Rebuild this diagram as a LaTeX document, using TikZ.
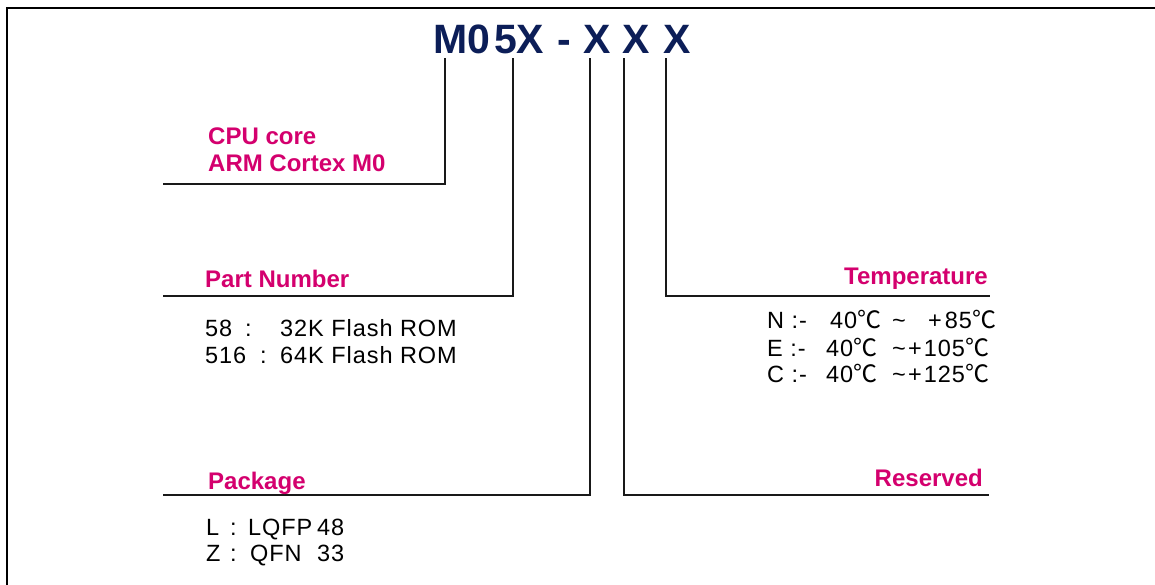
\documentclass[tikz,border=0pt]{standalone}
\usepackage{fontspec}
\setmainfont{Liberation Sans}
\newfontfamily\spaced[LetterSpace=4]{Liberation Sans}
\newfontfamily\cjk{Noto Sans CJK SC}
\newcommand\degc{{\cjk\fontsize{24}{24}\selectfont ℃}}
\definecolor{navy}{RGB}{12,30,88}
\definecolor{magenta}{RGB}{212,0,110}
\definecolor{ink}{RGB}{25,25,25}
\tikzset{
  title/.style={inner sep=0pt,anchor=base west,text=navy,font=\fontsize{41}{41}\selectfont\bfseries},
  label/.style={inner sep=0pt,anchor=base west,text=magenta,font=\fontsize{24}{27}\selectfont\bfseries},
  rlabel/.style={label,anchor=base east},
  body/.style={inner sep=0pt,anchor=base west,text=black,font=\fontsize{23.5}{26}\selectfont\spaced},
  lead/.style={draw=ink,line width=2pt},
  frame/.style={draw=black,line width=2pt}
}
\begin{document}
\begin{tikzpicture}[x=1pt,y=-1pt]
\useasboundingbox (0,0) rectangle (1155,584);
\fill[white] (0,0) rectangle (1155,584);
% frame
\coordinate (fbl) at (7,585);
\coordinate (ftl) at (7,7.5);
\coordinate (ftr) at (1156,7.5);
\draw[frame] (fbl) -- (ftl) -- (ftr);
% title
\node[title] (cM) at (433,53) {M};
\node[title] (c0) at (467,53) {0};
\node[title] (c5) at (494,53) {5};
\node[title] (cX1) at (516,53) {X};
\node[title] (cD) at (557,53) {-};
\node[title] (cX2) at (583,53) {X};
\node[title] (cX3) at (622,53) {X};
\node[title] (cX4) at (663,53) {X};
% lead tops
\coordinate (v1) at (444.5,58);
\coordinate (v2) at (513,58);
\coordinate (v3) at (590,58);
\coordinate (v4) at (623.5,58);
\coordinate (v5) at (666,58);
% lead ends
\coordinate (h1) at (163,184);
\coordinate (h2) at (163,296);
\coordinate (h3) at (163,495);
\coordinate (h4) at (989,495);
\coordinate (h5) at (990,296);
\draw[lead] (v1) |- (h1);
\draw[lead] (v2) |- (h2);
\draw[lead] (v3) |- (h3);
\draw[lead] (v4) |- (h4);
\draw[lead] (v5) |- (h5);
% labels
\node[label] (cpu1) at (208,144) {CPU core};
\node[label] (cpu2) at (208,171) {ARM Cortex M0};
\node[label] (part) at (205,287) {Part Number};
\node[label] (pkg) at (208,489) {Package};
\node[rlabel] (temp) at (988,284) {Temperature};
\node[rlabel] (res) at (983,486) {Reserved};
% part number body
\node[body] (p1) at (205,336) {\makebox[40pt][l]{58}\makebox[35pt][l]{:}32K Flash ROM};
\node[body] (p2) at (205,363) {\makebox[55pt][l]{516}\makebox[20pt][l]{:}64K Flash ROM};
% package body
\node[body] (k1) at (206,535) {\makebox[24pt][l]{L}\makebox[18pt][l]{:}\makebox[69pt][l]{LQFP}48};
\node[body] (k2) at (206,561) {\makebox[24pt][l]{Z}\makebox[20pt][l]{:}\makebox[67pt][l]{QFN}33};
% temperature body
\node[body] (t1) at (767,328) {\makebox[63pt][l]{N :-}\makebox[62pt][l]{40\degc}\makebox[36pt][l]{\textasciitilde}+\hspace{3pt}85\degc};
\node[body] (t2) at (767,356) {\makebox[59pt][l]{E :-}\makebox[66pt][l]{40\degc}\makebox[16pt][l]{\textasciitilde}+\hspace{2pt}105\degc};
\node[body] (t3) at (767,382) {\makebox[59pt][l]{C :-}\makebox[66pt][l]{40\degc}\makebox[16pt][l]{\textasciitilde}+\hspace{2pt}125\degc};
\end{tikzpicture}
\end{document}
